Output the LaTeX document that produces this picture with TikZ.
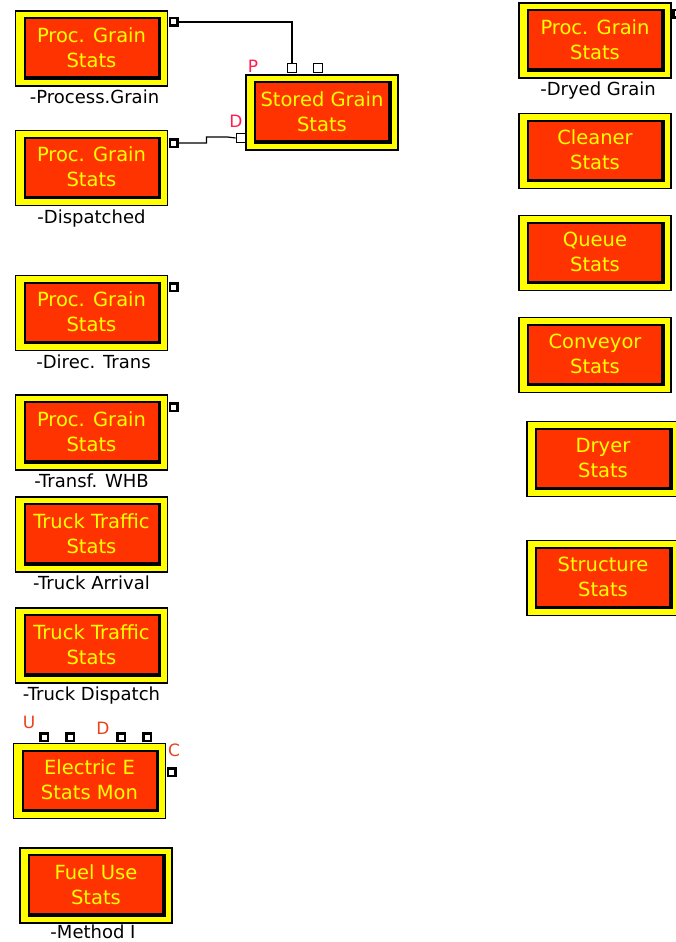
\documentclass[tikz,border=0pt]{standalone}
\usepackage{fontspec}
\setmainfont{DejaVu Sans}
\usetikzlibrary{positioning}
\definecolor{statred}{HTML}{FF3300}
\definecolor{statyellow}{HTML}{FFFF00}
\definecolor{pinpink}{HTML}{FF1F4F}
\definecolor{pinorange}{HTML}{E8441C}
\tikzset{
  frame/.style={draw=black, line width=1.3pt, fill=statyellow, minimum width=152pt, minimum height=75pt, inner sep=0pt},
  core/.style={fill=statred, minimum width=132pt, minimum height=57pt, inner sep=0pt, text=statyellow, align=center, font=\fontsize{19.5}{25}\selectfont},
  tag/.style={font=\fontsize{18}{20}\selectfont, text height=13pt, text depth=3pt, inner sep=0pt},
  port/.style={draw=black, line width=2.5pt, fill=white, minimum size=7.5pt, inner sep=0pt},
  openport/.style={draw=black, line width=1.2pt, fill=white, minimum size=9.5pt, inner sep=0pt},
  pinlabel/.style={font=\fontsize{17}{20}\selectfont, inner sep=0pt},
  wire/.style={draw=black, line width=1.2pt}
}
% name, position, first line, second line
\newcommand{\statbox}[4]{%
  \node[frame] (#1) at (#2) {};
  \fill[black] ([shift={(9,7)}]#1.north west) rectangle ([shift={(-7,-7)}]#1.south east);
  \node[core] (#1-txt) at ([shift={(0,-1)}]#1.center) {#3\\#4};
}

\begin{document}
\begin{tikzpicture}[x=1pt,y=-1pt]
	\fill[white] (0,0) rectangle (675,942);
	\useasboundingbox (0,0) rectangle (675,942);
	%%  Left column  %%%%%%%%
	\statbox{pgA}{91.5,48.5}{Proc. Grain}{Stats}
	\node[tag, below=4pt of pgA, xshift=3pt] (pgA-tag) {-Process.Grain};
	\node[port] (pgA-out) at (173.5,22) {};

	\statbox{pgB}{91.5,168}{Proc. Grain}{Stats}
	\node[tag, below=4pt of pgB] (pgB-tag) {-Dispatched};
	\node[port] (pgB-out) at (173.5,143) {};

	\statbox{pgC}{91.5,313}{Proc. Grain}{Stats}
	\node[tag, below=4pt of pgC, xshift=2pt] (pgC-tag) {-Direc. Trans};
	\node[port] (pgC-out) at (173.5,287) {};

	\statbox{pgD}{91.5,432.5}{Proc. Grain}{Stats}
	\node[tag, below=4pt of pgD] (pgD-tag) {-Transf. WHB};
	\node[port] (pgD-out) at (173.5,407) {};

	\statbox{ttA}{91.5,534.5}{Truck Traffic}{Stats}
	\node[tag, below=4pt of ttA] (ttA-tag) {-Truck Arrival};

	\statbox{ttB}{91.5,645.5}{Truck Traffic}{Stats}
	\node[tag, below=4pt of ttB] (ttB-tag) {-Truck Dispatch};

	\statbox{elec}{89.5,781}{Electric E}{Stats Mon}
	\node[port] (elec-u1) at (44,737) {};
	\node[port] (elec-u2) at (70,737) {};
	\node[port] (elec-d1) at (121,737) {};
	\node[port] (elec-d2) at (147,737) {};
	\node[port] (elec-c) at (171.5,772) {};
	\node[pinlabel, text=pinorange] (elec-U) at (29,722) {U};
	\node[pinlabel, text=pinorange] (elec-D) at (103,728) {D};
	\node[pinlabel, text=pinorange] (elec-C) at (174,750) {C};

	\statbox{fuel}{96,885.5}{Fuel Use}{Stats}
	\node[tag, below=1.5pt of fuel, xshift=-3pt] (fuel-tag) {-Method I};
	%%%%%%%%%%%%%%%

	%%  Stored grain  %%%%%%%%
	\statbox{sg}{322,112.5}{Stored Grain}{Stats}
	\node[openport] (sg-p) at (292,68) {};
	\node[openport] (sg-q) at (318,68) {};
	\node[openport] (sg-d) at (241,138) {};
	\node[pinlabel, text=pinpink] (sg-P) at (253,66) {P};
	\node[pinlabel, text=pinpink] (sg-D) at (236,121) {D};
	\draw[wire] (pgA-out.east) -| (sg-p.north);
	\draw[wire] (pgB-out.east) -- ++(28,0) -- ++(0,-6) -- ++(21,0) -- (sg-d.west);
	%%%%%%%%%%%%%%%

	%%  Right column  %%%%%%%%
	\statbox{pgE}{595,40.5}{Proc. Grain}{Stats}
	\node[tag, below=4pt of pgE, xshift=3pt] (pgE-tag) {-Dryed Grain};
	\node[port] (pgE-out) at (677,14) {};
	\statbox{clean}{595,151}{Cleaner}{Stats}
	\statbox{queue}{595,253}{Queue}{Stats}
	\statbox{conv}{595,355}{Conveyor}{Stats}
	\statbox{dryer}{603,459}{Dryer}{Stats}
	\statbox{struct}{603,578}{Structure}{Stats}
	%%%%%%%%%%%%%%%
\end{tikzpicture}
\end{document}
